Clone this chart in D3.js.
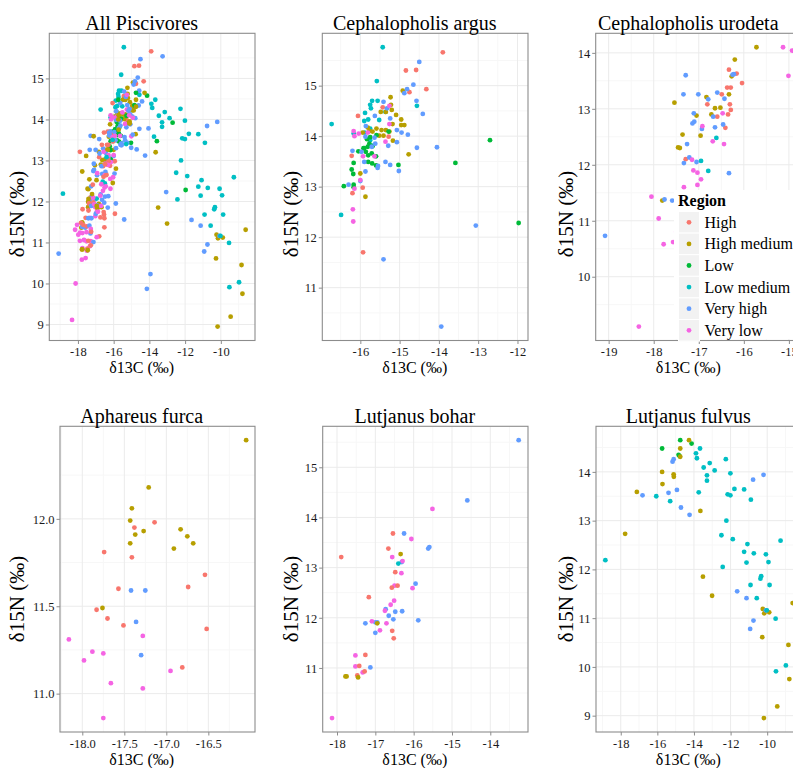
<!DOCTYPE html>
<html>
<head>
<meta charset="utf-8">
<script src="https://cdn.jsdelivr.net/npm/d3@7"></script>
<style>
  body { margin: 0; background: #fff; }
  svg { display: block; font-family: "Liberation Serif", "Times New Roman", serif; }
</style>
</head>
<body>
<svg id="chart" width="793" height="768"></svg>
<script>
// Region levels and ggplot hue colours
const regions = ["High", "High medium", "Low", "Low medium", "Very high", "Very low"];
const regionColors = ["#F8766D", "#B79F00", "#00BA38", "#00BFC4", "#619CFF", "#F564E3"];

// [d13C, d15N, region index]
const argus = [
  [-15.43,15.76,3],[-15.58,15.09,3],[-16.73,14.24,3],[-16.49,12.44,3],[-14.56,14.60,3],[-15.70,14.70,3],[-15.56,14.70,3],
  [-15.75,14.62,3],[-15.73,14.55,3],[-15.88,14.46,3],[-15.80,14.33,3],[-15.52,14.32,3],[-15.90,14.30,3],[-15.75,14.15,3],
  [-15.89,14.07,3],[-15.75,13.92,3],[-15.71,13.81,3],[-16.17,14.05,3],[-15.36,14.48,3],
  [-13.90,15.66,0],[-14.84,15.30,0],[-14.58,15.31,0],[-14.32,14.93,0],[-14.75,14.87,0],[-15.43,14.57,0],[-16.06,14.40,0],
  [-16.22,13.61,0],[-16.20,12.87,0],[-15.93,11.70,0],[-15.94,12.98,0],[-15.28,13.99,0],
  [-14.92,14.90,1],[-15.23,14.77,1],[-15.22,14.62,1],[-15.20,14.52,1],[-15.48,14.48,1],[-15.35,14.48,1],[-15.09,14.42,1],
  [-14.96,14.33,1],[-14.96,14.22,1],[-14.88,14.22,1],[-15.18,14.24,1],[-15.59,14.15,1],[-15.46,14.12,1],[-15.35,14.12,1],
  [-15.26,14.09,1],[-15.52,14.01,1],[-15.41,14.01,1],[-15.69,14.09,1],[-15.81,14.17,1],[-15.77,14.10,1],[-15.17,13.91,1],
  [-14.77,13.64,1],[-16.00,13.26,1],[-15.87,12.80,1],[-15.94,14.07,1],
  [-12.70,13.92,2],[-13.58,13.47,2],[-11.97,12.28,2],[-15.28,14.09,2],[-15.03,13.43,2],[-16.42,13.01,2],[-16.17,13.47,2],
  [-16.22,13.34,2],[-16.17,13.04,2],[-16.18,13.25,2],[-16.17,12.99,2],[-16.05,13.70,2],[-15.90,13.76,2],[-15.81,13.79,2],
  [-15.83,13.94,2],[-15.77,13.85,2],[-15.69,13.80,2],[-15.71,13.66,2],[-15.80,13.62,2],[-15.60,13.60,2],[-15.70,13.46,2],
  [-15.60,13.42,2],[-15.80,13.49,2],[-15.92,13.76,2],[-15.86,13.69,2],[-15.75,13.98,2],[-15.59,14.02,2],
  [-14.50,15.47,4],[-14.65,15.02,4],[-14.81,14.93,4],[-14.88,14.85,4],[-14.57,14.70,4],[-14.41,14.44,4],[-15.41,14.68,4],
  [-15.63,14.40,4],[-15.24,14.35,4],[-14.79,14.03,4],[-14.95,14.07,4],[-15.07,14.12,4],[-14.56,13.77,4],[-14.05,13.78,4],
  [-15.07,13.88,4],[-15.29,13.81,4],[-15.36,13.49,4],[-15.24,13.43,4],[-15.02,13.31,4],[-15.55,13.41,4],[-15.56,13.37,4],
  [-16.20,13.71,4],[-16.30,13.04,4],[-16.00,13.11,4],[-15.87,13.30,4],[-15.90,13.49,4],[-15.71,13.79,4],[-15.64,13.97,4],
  [-15.62,13.85,4],[-15.86,14.20,4],[-15.87,13.99,4],[-13.06,12.23,4],[-15.41,11.56,4],[-13.94,10.23,4],[-15.32,14.55,4],
  [-15.97,13.69,4],
  [-16.17,14.10,5],[-16.15,14.00,5],[-16.04,14.05,5],[-15.26,14.24,5],[-15.36,13.89,5],[-15.26,14.60,5],[-15.93,13.60,5],
  [-15.81,14.07,5],[-15.64,13.60,5],[-16.00,13.13,5],[-16.15,12.96,5],[-16.19,12.55,5],[-16.18,12.31,5]
];

const urodeta = [
  [-15.72,14.10,1],[-16.20,13.88,1],[-16.27,13.58,1],[-16.33,13.26,1],[-17.54,13.11,1],[-16.83,13.21,1],[-16.64,13.01,1],
  [-16.52,13.02,1],[-17.05,12.88,1],[-16.72,12.90,1],[-17.36,12.54,1],[-16.96,12.52,1],[-17.46,12.31,1],[-17.42,12.30,1],
  [-17.81,11.36,1],
  [-16.33,13.70,0],[-16.16,13.63,0],[-16.04,13.46,0],[-16.37,13.38,0],[-16.29,13.38,0],[-16.49,13.26,0],[-16.31,13.08,0],
  [-16.81,13.08,0],[-16.29,12.98,0],[-16.35,12.90,0],[-16.59,12.86,0],[-16.41,12.66,0],[-17.29,12.10,0],
  [-17.29,13.60,4],[-16.25,13.61,4],[-16.22,13.62,4],[-17.34,13.26,4],[-17.01,13.26,4],[-16.59,13.29,4],[-16.79,13.17,4],
  [-16.43,13.18,4],[-17.11,12.92,4],[-16.68,12.86,4],[-17.14,12.74,4],[-17.10,12.77,4],[-16.93,12.64,4],[-16.64,12.67,4],
  [-16.46,12.72,4],[-17.26,12.37,4],[-17.33,12.03,4],[-17.21,12.13,4],[-17.05,12.05,4],[-16.33,11.85,4],[-17.76,11.38,4],
  [-19.08,10.73,4],[-17.59,11.36,4],
  [-16.95,12.07,3],[-16.79,11.89,3],[-16.61,12.48,3],
  [-15.13,14.10,5],[-14.93,14.04,5],[-15.01,13.59,5],[-16.47,12.92,5],[-16.92,12.69,5],[-16.69,12.42,5],[-16.44,12.37,5],
  [-17.15,12.09,5],[-17.12,11.90,5],[-17.03,11.86,5],[-16.95,11.74,5],[-17.03,11.64,5],[-17.33,11.60,5],[-18.05,11.43,5],
  [-17.89,11.04,5],[-17.78,10.58,5],[-17.57,10.62,5],[-17.50,10.80,5],[-18.33,9.11,5]
];

const furca = [
  [-16.05,12.45,1],[-17.21,12.18,1],[-17.41,12.06,1],[-17.43,11.99,1],[-17.27,11.93,1],[-17.37,11.91,1],[-16.83,11.94,1],
  [-16.75,11.90,1],[-16.91,11.83,1],[-16.68,11.86,1],[-17.43,11.86,1],[-17.76,11.49,1],
  [-17.14,11.98,0],[-17.38,11.95,0],[-17.74,11.81,0],[-17.41,11.78,0],[-16.54,11.68,0],[-16.74,11.61,0],[-17.57,11.60,0],
  [-17.83,11.48,0],[-17.70,11.43,0],[-17.51,11.39,0],[-16.52,11.37,0],[-16.81,11.15,0],
  [-17.42,11.59,4],[-17.25,11.59,4],[-17.36,11.41,4],[-17.30,11.22,4],
  [-18.16,11.31,5],[-17.88,11.24,5],[-17.98,11.19,5],[-17.75,11.23,5],[-17.28,11.33,5],[-16.95,11.13,5],[-17.66,11.06,5],
  [-17.28,11.03,5],[-17.75,10.86,5]
];

const bohar = [
  [-13.26,15.54,4],[-14.60,14.34,4],[-16.25,13.68,4],[-15.59,13.41,4],[-15.62,13.38,4],[-16.31,13.11,4],[-15.95,12.68,4],
  [-16.48,12.12,4],[-16.30,12.13,4],[-16.73,12.17,4],[-16.65,12.04,4],[-16.53,11.97,4],[-15.88,11.95,4],[-17.26,11.89,4],
  [-17.00,11.91,4],[-16.95,11.91,4],[-17.00,11.70,4],[-17.13,11.01,4],
  [-15.51,14.17,5],[-16.06,13.57,5],[-16.56,13.21,5],[-16.29,13.13,5],[-16.32,12.89,5],[-16.50,12.64,5],[-16.03,12.59,5],
  [-16.51,12.34,5],[-16.60,12.26,5],[-16.75,12.14,5],[-17.09,11.93,5],[-16.71,11.89,5],[-16.88,11.75,5],[-17.52,11.25,5],
  [-17.52,11.03,5],[-17.33,10.91,5],[-18.13,10.00,5],
  [-16.54,13.68,0],[-16.66,13.38,0],[-17.89,13.21,0],[-16.48,12.91,0],[-16.42,12.64,0],[-16.57,12.60,0],[-17.17,12.41,0],
  [-16.56,11.74,0],[-16.52,11.59,0],[-17.26,11.26,0],[-17.42,11.04,0],[-17.47,10.85,0],[-17.28,10.93,0],
  [-16.34,13.27,1],[-16.95,11.89,1],[-17.78,10.83,1],[-17.75,10.83,1],[-17.45,10.81,1],
  [-16.40,13.08,3]
];

const fulvus = [
  [-15.74,14.48,2],[-14.75,14.65,2],[-14.13,14.58,2],[-14.84,14.35,2],[-14.78,14.32,2],
  [-14.27,14.65,1],[-14.75,14.48,1],[-14.75,14.31,1],[-15.74,14.00,1],[-15.11,13.95,1],[-15.10,13.90,1],[-15.72,13.75,1],
  [-17.12,13.59,1],[-13.65,13.20,1],[-17.76,12.73,1],[-13.51,11.85,1],[-13.01,11.46,1],[-10.24,11.19,1],[-10.16,11.10,1],
  [-9.89,11.12,1],[-8.61,11.31,1],[-10.27,10.61,1],[-8.84,10.45,1],[-8.79,9.75,1],[-9.45,9.19,1],[-10.18,8.95,1],
  [-16.81,13.52,4],[-15.39,13.57,4],[-14.93,13.63,4],[-15.17,14.21,4],[-15.11,14.26,4],[-14.71,13.27,4],[-14.24,13.12,4],
  [-10.77,13.84,4],[-10.20,13.94,4],[-11.64,11.55,4],[-11.13,11.41,4],[-10.75,10.95,4],[-10.93,10.78,4],[-10.07,11.16,4],
  [-18.84,12.19,3],[-16.06,13.50,3],[-15.30,13.40,3],[-13.89,14.38,3],[-13.67,14.48,3],[-13.84,14.28,3],[-13.47,14.09,3],
  [-13.14,14.18,3],[-12.87,14.03,3],[-13.29,13.93,3],[-13.29,13.82,3],[-13.74,13.58,3],[-12.26,14.26,3],[-12.01,13.97,3],
  [-12.16,13.54,3],[-12.01,13.52,3],[-11.79,13.65,3],[-11.26,13.64,3],[-10.89,13.43,3],[-12.23,13.00,3],[-12.50,12.70,3],
  [-11.88,12.62,3],[-11.08,12.52,3],[-11.26,12.36,3],[-11.13,12.14,3],[-10.73,12.33,3],[-10.07,12.31,3],[-9.93,12.15,3],
  [-9.27,12.59,3],[-12.43,12.05,3],[-10.91,11.68,3],[-10.37,11.81,3],[-10.33,11.86,3],[-9.87,11.68,3],[-10.57,11.41,3],
  [-10.02,11.16,3],[-9.54,10.99,3],[-9.52,9.91,3],[-8.98,10.03,3]
];

// samples only seen in the pooled panel
const otherPiscivores = [[-14.14, 9.87, 4]];
const allPiscivores = [].concat(argus, urodeta, furca, bohar, fulvus, otherPiscivores);

const panels = [
  { title: "All Piscivores", data: allPiscivores,
    xTicks: ["-18", "-16", "-14", "-12", "-10"], yTicks: ["9", "10", "11", "12", "13", "14", "15"] },
  { title: "Cephalopholis argus", data: argus,
    xTicks: ["-16", "-15", "-14", "-13", "-12"], yTicks: ["11", "12", "13", "14", "15"] },
  { title: "Cephalopholis urodeta", data: urodeta,
    xTicks: ["-19", "-18", "-17", "-16", "-15"], yTicks: ["10", "11", "12", "13", "14"] },
  { title: "Aphareus furca", data: furca,
    xTicks: ["-18.0", "-17.5", "-17.0", "-16.5"], yTicks: ["11.0", "11.5", "12.0"] },
  { title: "Lutjanus bohar", data: bohar,
    xTicks: ["-18", "-17", "-16", "-15", "-14"], yTicks: ["11", "12", "13", "14", "15"] },
  { title: "Lutjanus fulvus", data: fulvus,
    xTicks: ["-18", "-16", "-14", "-12", "-10"], yTicks: ["9", "10", "11", "12", "13", "14"] }
];

// plot-area geometry (the right column runs off the page, as in the source)
const boxes = [
  { left: 49.3, top: 33.3, width: 205.7, height: 307.2 },
  { left: 322.3, top: 33.3, width: 205.7, height: 307.2 },
  { left: 595.7, top: 33.3, width: 205.7, height: 307.2 },
  { left: 60, top: 426.3, width: 195, height: 305.7 },
  { left: 322.7, top: 426.3, width: 205.3, height: 305.7 },
  { left: 596, top: 426.3, width: 206, height: 305.7 }
];
const colCenter = [141.7, 414.8, 688.3];
const yTitleX = [24, 298, 573];
const rowText = [
  { title: 30, tick: 355.5, xTitle: 373, yTitleMid: 214 },
  { title: 423, tick: 748, xTitle: 765, yTitleMid: 599 }
];

const svg = d3.select("#chart");

function expand(ext) {
  const pad = (ext[1] - ext[0]) * 0.05;
  return [ext[0] - pad, ext[1] + pad];
}
function minors(major, domain) {
  const step = major[1] - major[0];
  const out = [];
  for (let v = major[0] - step / 2; v <= domain[1]; v += step) {
    if (v >= domain[0]) out.push(v);
  }
  return out;
}

panels.forEach((p, i) => {
  const b = boxes[i];
  const col = i % 3, row = Math.floor(i / 3);
  const rt = rowText[row];
  const xDom = expand(d3.extent(p.data, d => d[0]));
  const yDom = expand(d3.extent(p.data, d => d[1]));
  const x = d3.scaleLinear().domain(xDom).range([b.left, b.left + b.width]);
  const y = d3.scaleLinear().domain(yDom).range([b.top + b.height, b.top]);
  const xMaj = p.xTicks.map(Number), yMaj = p.yTicks.map(Number);

  const g = svg.append("g");
  // minor grid
  g.selectAll(".xmin").data(minors(xMaj, xDom)).enter().append("line")
    .attr("x1", d => x(d)).attr("x2", d => x(d)).attr("y1", b.top).attr("y2", b.top + b.height)
    .attr("stroke", "#F7F7F7").attr("stroke-width", 1);
  g.selectAll(".ymin").data(minors(yMaj, yDom)).enter().append("line")
    .attr("y1", d => y(d)).attr("y2", d => y(d)).attr("x1", b.left).attr("x2", b.left + b.width)
    .attr("stroke", "#F7F7F7").attr("stroke-width", 1);
  // major grid
  g.selectAll(".xmaj").data(xMaj).enter().append("line")
    .attr("x1", d => x(d)).attr("x2", d => x(d)).attr("y1", b.top).attr("y2", b.top + b.height)
    .attr("stroke", "#EBEBEB").attr("stroke-width", 1);
  g.selectAll(".ymaj").data(yMaj).enter().append("line")
    .attr("y1", d => y(d)).attr("y2", d => y(d)).attr("x1", b.left).attr("x2", b.left + b.width)
    .attr("stroke", "#EBEBEB").attr("stroke-width", 1);

  // points
  g.selectAll("circle").data(p.data).enter().append("circle")
    .attr("cx", d => x(d[0])).attr("cy", d => y(d[1])).attr("r", 2.4)
    .attr("fill", d => regionColors[d[2]]);

  // border
  g.append("rect").attr("x", b.left).attr("y", b.top).attr("width", b.width).attr("height", b.height)
    .attr("fill", "none").attr("stroke", "#8C8C8C").attr("stroke-width", 1.1);

  // axes
  const xAxis = d3.axisBottom(x).tickValues(xMaj).tickFormat((d, k) => p.xTicks[k]).tickSize(3.5).tickPadding(2);
  const xa = g.append("g").attr("transform", `translate(0,${b.top + b.height})`).call(xAxis);
  const yAxis = d3.axisLeft(y).tickValues(yMaj).tickFormat((d, k) => p.yTicks[k]).tickSize(3.5).tickPadding(2);
  const ya = g.append("g").attr("transform", `translate(${b.left},0)`).call(yAxis);
  [xa, ya].forEach(a => {
    a.select(".domain").remove();
    a.selectAll(".tick line").attr("stroke", "#8C8C8C");
    a.selectAll(".tick text").attr("font-family", "Liberation Serif, serif").attr("font-size", 12.5)
      .attr("fill", "#1a1a1a");
  });
  xa.selectAll(".tick text").attr("dy", null).attr("y", rt.tick - b.top - b.height);
  ya.selectAll(".tick text").attr("dy", "0.34em");

  // titles
  g.append("text").attr("x", colCenter[col]).attr("y", rt.title).attr("text-anchor", "middle")
    .attr("font-size", 20).attr("fill", "#000").text(p.title);
  g.append("text").attr("x", colCenter[col]).attr("y", rt.xTitle).attr("text-anchor", "middle")
    .attr("font-size", 16).attr("fill", "#000").text("δ13C (‰)");
  g.append("text").attr("transform", `translate(${yTitleX[col]},${rt.yTitleMid}) rotate(-90)`)
    .attr("text-anchor", "middle").attr("font-size", 21).attr("fill", "#000").text("δ15N (‰)");
});

// legend, placed over the third panel
const leg = svg.append("g").attr("transform", "translate(674,190)");
leg.append("rect").attr("x", 0).attr("y", 0).attr("width", 130).attr("height", 149).attr("fill", "#fff");
leg.append("text").attr("x", 4).attr("y", 16).attr("font-size", 16).attr("font-weight", "bold").text("Region");
const keyH = 21.6;
const rowsG = leg.selectAll(".key").data(regions).enter().append("g")
  .attr("transform", (d, k) => `translate(4.5,${21.5 + k * keyH})`);
rowsG.append("rect").attr("width", 21).attr("height", keyH).attr("fill", "#F2F2F2")
  .attr("stroke", "#fff").attr("stroke-width", 1);
rowsG.append("circle").attr("cx", 10.5).attr("cy", keyH / 2).attr("r", 2.4)
  .attr("fill", (d, k) => regionColors[k]);
rowsG.append("text").attr("x", 26).attr("y", keyH / 2 + 5.5).attr("font-size", 16).text(d => d);
</script>
</body>
</html>
